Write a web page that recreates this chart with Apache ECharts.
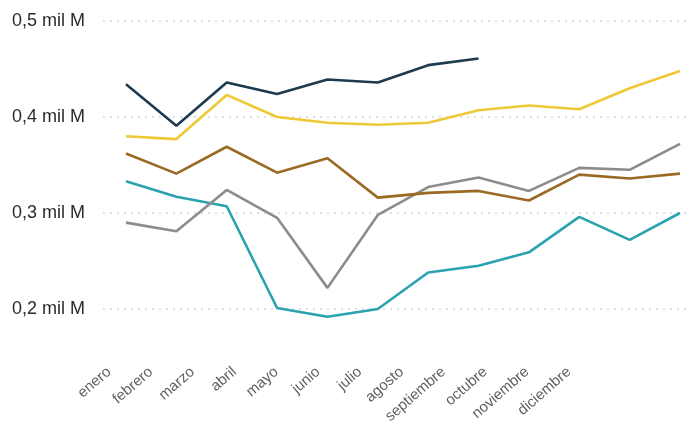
<!DOCTYPE html>
<html>
<head>
<meta charset="utf-8">
<script src="https://cdn.jsdelivr.net/npm/echarts@6/dist/echarts.min.js"></script>
<style>
html,body{margin:0;padding:0;background:#fff;}
#chart{width:690px;height:431px;}
</style>
</head>
<body>
<div id="chart"></div>
<script>
var months = ['enero','febrero','marzo','abril','mayo','junio','julio','agosto','septiembre','octubre','noviembre','diciembre'];
var yTicks = [0.2, 0.3, 0.4, 0.5];
var serieNavy   = [0.434, 0.391, 0.436, 0.424, 0.439, 0.436, 0.454, 0.461, null, null, null, null];
var serieYellow = [0.380, 0.377, 0.423, 0.400, 0.394, 0.392, 0.394, 0.407, 0.412, 0.408, 0.430, 0.448];
var serieBrown  = [0.362, 0.341, 0.369, 0.342, 0.357, 0.316, 0.321, 0.323, 0.313, 0.340, 0.336, 0.341];
var serieGray   = [0.290, 0.281, 0.324, 0.295, 0.222, 0.298, 0.327, 0.337, 0.323, 0.347, 0.345, 0.372];
var serieTeal   = [0.333, 0.317, 0.307, 0.201, 0.192, 0.200, 0.238, 0.245, 0.259, 0.296, 0.272, 0.300];

var chart = echarts.init(document.getElementById('chart'), null, {renderer:'canvas'});
function mkLine(name, data, color){
  return {name:name, type:'line', data:data, xAxisIndex:1, yAxisIndex:1,
    showSymbol:false, symbol:'none', connectNulls:false,
    lineStyle:{color:color, width:2.6}, itemStyle:{color:color}, z:3};
}
chart.setOption({
  animation:false,
  backgroundColor:'#ffffff',
  grid:[
    {left:103, right:0, top:21, height:288},
    {left:126, right:10, top:21, height:336},
    {left:109, right:121, top:21, height:341}
  ],
  xAxis:[
    {gridIndex:0, type:'value', show:false, min:0, max:1},
    {gridIndex:1, type:'category', data:months, boundaryGap:false, show:false},
    {gridIndex:2, type:'category', data:months, boundaryGap:false,
      axisLine:{show:false}, axisTick:{show:false}, splitLine:{show:false},
      axisLabel:{interval:0, rotate:41, margin:8, fontSize:15, color:'#5f5f5f',
        fontFamily:'Liberation Sans, Arial, sans-serif'}}
  ],
  yAxis:[
    {gridIndex:0, type:'value', min:0.2, max:0.5, interval:0.1,
      axisLine:{show:false}, axisTick:{show:false},
      axisLabel:{align:'left', margin:91, fontSize:18, color:'#2b2b2b',
        fontFamily:'Liberation Sans, Arial, sans-serif',
        formatter:function(v){ return String(v.toFixed(1)).replace('.', ',') + ' mil M'; }},
      splitLine:{show:true, lineStyle:{color:'#d6d6d6', type:[2,5], width:1.5}}},
    {gridIndex:1, type:'value', min:0.15, max:0.5, show:false, splitLine:{show:false}},
    {gridIndex:2, type:'value', min:0, max:1, show:false, splitLine:{show:false}}
  ],
  series:[
    mkLine('A', serieTeal, '#2aa2b0'),
    mkLine('B', serieGray, '#8c8c8c'),
    mkLine('C', serieBrown, '#9a6a24'),
    mkLine('D', serieYellow, '#eec935'),
    mkLine('E', serieNavy, '#1d3a4e')
  ]
});
</script>
</body>
</html>
